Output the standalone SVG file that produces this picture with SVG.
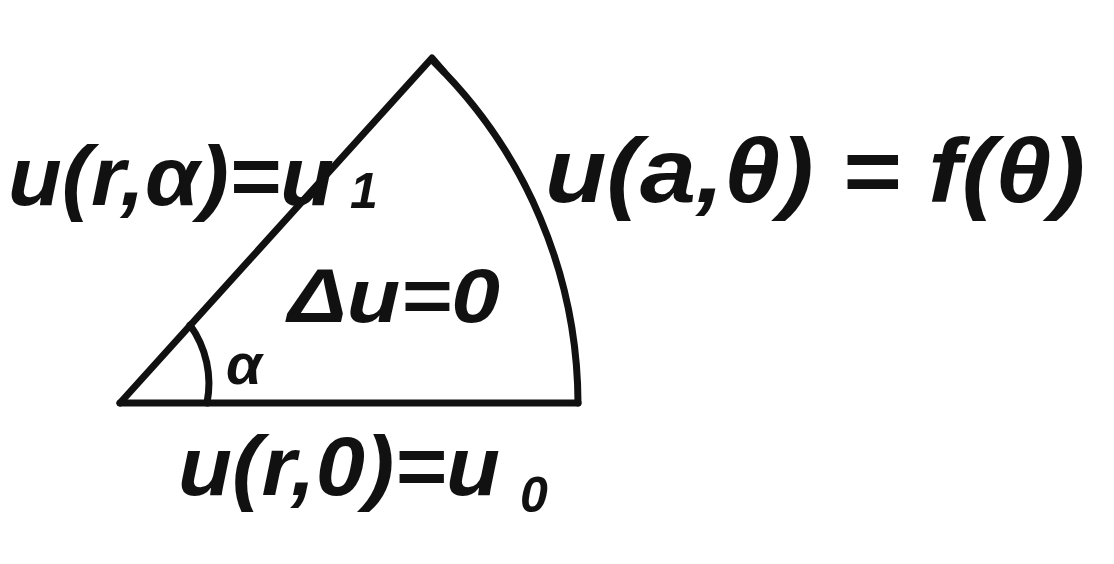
<svg xmlns="http://www.w3.org/2000/svg" width="1114" height="564" viewBox="0 0 1114 564">
<style>
.ln{fill:none;stroke:#111;stroke-width:7;stroke-linecap:round;stroke-linejoin:round}
.t{font-family:"Liberation Sans",Arial,sans-serif;font-style:italic;font-weight:bold;fill:#111}
</style>
<rect width="1114" height="564" fill="#fff"/>
<g id="sector">
<path class="ln" d="M120,403 L432,58 L444,72"/>
<path class="ln" d="M120,403 L578,403"/>
<path class="ln" d="M434,62 A480,480 0 0 1 578,403"/>
<path class="ln" d="M190,325 A100,100 0 0 1 207,403"/>
</g>
<g id="label-alpha-side">
<text class="t" font-size="84"><tspan x="8" y="205" textLength="326" lengthAdjust="spacingAndGlyphs">u(r,α)=u</tspan><tspan x="350" y="208" font-size="50">1</tspan></text>
</g>
<g id="label-arc">
<text class="t" x="545" y="202" font-size="90" textLength="540" lengthAdjust="spacingAndGlyphs">u(a,θ) = f(θ)</text>
</g>
<g id="label-laplace">
<text class="t" x="288" y="322" font-size="76" textLength="212" lengthAdjust="spacingAndGlyphs">Δu=0</text>
</g>
<g id="label-angle">
<text class="t" x="226" y="384" font-size="58">α</text>
</g>
<g id="label-bottom">
<text class="t" font-size="84"><tspan x="178" y="495" textLength="322" lengthAdjust="spacingAndGlyphs">u(r,0)=u</tspan><tspan x="520" y="512" font-size="50">0</tspan></text>
</g>
</svg>
